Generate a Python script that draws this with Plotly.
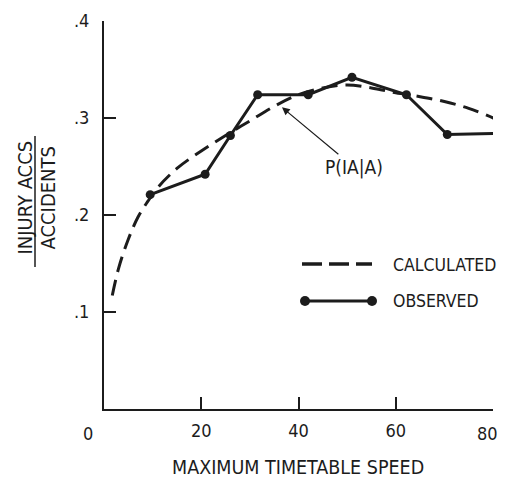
import plotly.graph_objects as go

# Observed data
obs_speed = [9.5, 20.8, 26.0, 31.6, 42.0, 51.0, 62.2, 70.6, 80.8]
obs_ratio = [0.221, 0.242, 0.282, 0.324, 0.324, 0.342, 0.324, 0.283, 0.284]

# Calculated curve
calc_speed = [1.7, 3, 5, 7, 9, 11, 15, 20, 25, 30, 35, 40, 45, 50, 55, 60, 65, 70, 75, 80, 80.8]
calc_ratio = [0.117, 0.145, 0.175, 0.198, 0.214, 0.228, 0.248, 0.266, 0.282, 0.297, 0.312,
              0.324, 0.331, 0.334, 0.331, 0.326, 0.322, 0.317, 0.310, 0.300, 0.298]

x_ticks = [20, 40, 60, 80]
x_ticktext = ["20", "40", "60", ""]
y_ticks = [0.1, 0.2, 0.3, 0.4]
y_ticktext = [".1", ".2", ".3", ".4"]

INK = "#1c1c1c"
FONT = "DejaVu Sans Condensed, Liberation Sans Narrow, sans-serif"

fig = go.Figure()
fig.add_trace(go.Scatter(x=calc_speed, y=calc_ratio, mode="lines",
                         line=dict(color=INK, width=3, dash="16px,8px", shape="spline"),
                         cliponaxis=False, showlegend=False, name="CALCULATED"))
fig.add_trace(go.Scatter(x=obs_speed, y=obs_ratio, mode="lines+markers",
                         line=dict(color=INK, width=3),
                         marker=dict(color=INK, size=9),
                         cliponaxis=False, showlegend=False, name="OBSERVED"))

# page geometry (the page body adds an 8px offset)
OFF = 8
W, H = 505, 483
L_PAGE, T_PAGE = 104, 21           # plot-area left/top on the page
pw, ph = 389, 388                   # plot-area size
L = L_PAGE - OFF
T = T_PAGE - OFF
R = W - L - pw
B = H - T - ph

def px(x):  # page pixel -> paper
    return (x - L_PAGE) / pw

def py(y):
    return (T_PAGE + ph - y) / ph

shapes = []
annotations = []
# fraction bar of y title
shapes.append(dict(type="line", xref="paper", yref="paper", x0=px(35), x1=px(35),
                   y0=py(136), y1=py(267), line=dict(color=INK, width=1.5)))
annotations.append(dict(xref="paper", yref="paper", x=px(24.5), y=py(198), text="INJURY ACCS",
                        xanchor="center", yanchor="middle",
                        textangle=-90, showarrow=False, font=dict(size=20, color=INK, family=FONT)))
annotations.append(dict(xref="paper", yref="paper", x=px(47.5), y=py(198), text="ACCIDENTS",
                        xanchor="center", yanchor="middle",
                        textangle=-90, showarrow=False, font=dict(size=20, color=INK, family=FONT)))
# x "0" and "80" labels
annotations.append(dict(xref="paper", yref="paper", x=px(88), y=py(433), text="0",
                        xanchor="center", yanchor="middle",
                        showarrow=False, font=dict(size=18, color=INK, family=FONT)))
annotations.append(dict(xref="paper", yref="paper", x=px(487), y=py(433), text="80",
                        xanchor="center", yanchor="middle",
                        showarrow=False, font=dict(size=18, color=INK, family=FONT)))
# x title
annotations.append(dict(xref="paper", yref="paper", x=px(298), y=py(468), text="MAXIMUM TIMETABLE SPEED",
                        xanchor="center", yanchor="middle",
                        showarrow=False, font=dict(size=19.5, color=INK, family=FONT)))
# legend
shapes.append(dict(type="line", xref="paper", yref="paper", x0=px(302), x1=px(372),
                   y0=py(264), y1=py(264), line=dict(color=INK, width=3.5, dash="20px,7px")))
shapes.append(dict(type="line", xref="paper", yref="paper", x0=px(305), x1=px(372),
                   y0=py(301), y1=py(301), line=dict(color=INK, width=3)))
for cx in (305, 372):
    shapes.append(dict(type="circle", xref="paper", yref="paper", xsizemode="pixel",
                       ysizemode="pixel", xanchor=px(cx), yanchor=py(301),
                       x0=-5, x1=5, y0=-5, y1=5, fillcolor=INK, line=dict(color=INK, width=0)))
annotations.append(dict(xref="paper", yref="paper", x=px(391), y=py(265), text="CALCULATED",
                        xanchor="left", yanchor="middle",
                        showarrow=False, font=dict(size=17.5, color=INK, family=FONT)))
annotations.append(dict(xref="paper", yref="paper", x=px(391), y=py(301), text="OBSERVED",
                        xanchor="left", yanchor="middle",
                        showarrow=False, font=dict(size=17.5, color=INK, family=FONT)))
# P(IA|A) annotation with arrow
annotations.append(dict(x=36.6, y=0.311, xref="x", yref="y", text="P(IA|A)",
                        ax=72, ay=60, showarrow=True, arrowhead=2, arrowsize=1.3,
                        arrowwidth=1.2, arrowcolor=INK,
                        font=dict(size=19, color=INK, family=FONT)))

fig.update_layout(
    width=W, height=H,
    margin=dict(l=L, r=R, t=T, b=B),
    paper_bgcolor="white", plot_bgcolor="white",
    font=dict(family=FONT, color=INK, size=18),
    shapes=shapes, annotations=annotations,
    xaxis=dict(range=[0, 80], tickvals=x_ticks, ticktext=x_ticktext, automargin=False,
               ticks="inside", ticklen=12, tickwidth=2, tickcolor=INK,
               showline=True, linecolor=INK, linewidth=2, showgrid=False, zeroline=False,
               tickfont=dict(size=18), ticklabelstandoff=4),
    yaxis=dict(range=[0, 0.4], tickvals=y_ticks, ticktext=y_ticktext, automargin=False,
               ticks="inside", ticklen=12, tickwidth=2, tickcolor=INK,
               showline=True, linecolor=INK, linewidth=2, showgrid=False, zeroline=False,
               tickfont=dict(size=18), ticklabelstandoff=9),
)

fig.write_html("out.html")
